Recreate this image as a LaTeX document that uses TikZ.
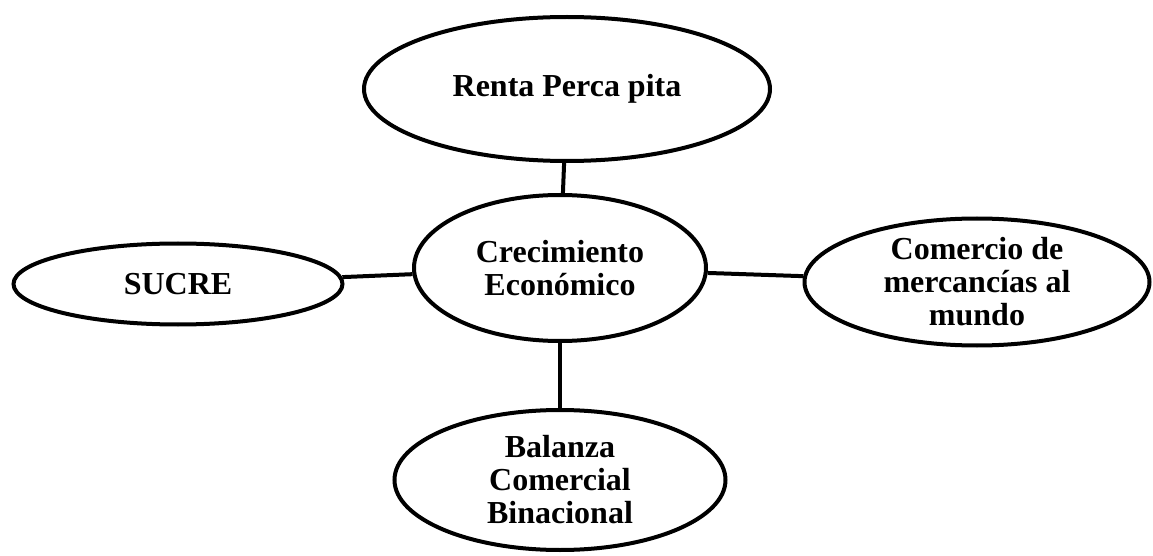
\documentclass[tikz,border=0pt]{standalone}
\usepackage{fontspec}
\setmainfont{Liberation Serif}
\usetikzlibrary{shapes.geometric}
\begin{document}
\begin{tikzpicture}[x=0.5pt,y=-0.5pt]
  \tikzset{ idea/.style={draw, ellipse, line width=2pt, inner sep=0pt, align=center,
      font=\fontsize{16}{16.5}\selectfont\bfseries} };
  \useasboundingbox (0,0) rectangle (1153,556);
  \node[idea, minimum width=146pt, minimum height=73pt] (eco) at (560,268) {Crecimiento\\Económico};
  \node[idea, minimum width=203pt, minimum height=72pt] (renta) at (567,89) {Renta Perca pita};
  \node[idea, minimum width=164.5pt, minimum height=40.5pt] (sucre) at (178,284) {SUCRE};
  \node[idea, minimum width=172.5pt, minimum height=63.5pt] (comercio) at (977,282) {Comercio de\\mercancías al\\mundo};
  \node[idea, minimum width=165.5pt, minimum height=70pt] (balanza) at (560,480) {Balanza\\Comercial\\Binacional};
  \draw[line width=2pt] (eco) -- (renta);
  \draw[line width=2pt] (eco) -- (sucre);
  \draw[line width=2pt] (eco) -- (comercio);
  \draw[line width=2pt] (eco) -- (balanza);
\end{tikzpicture}
\end{document}
